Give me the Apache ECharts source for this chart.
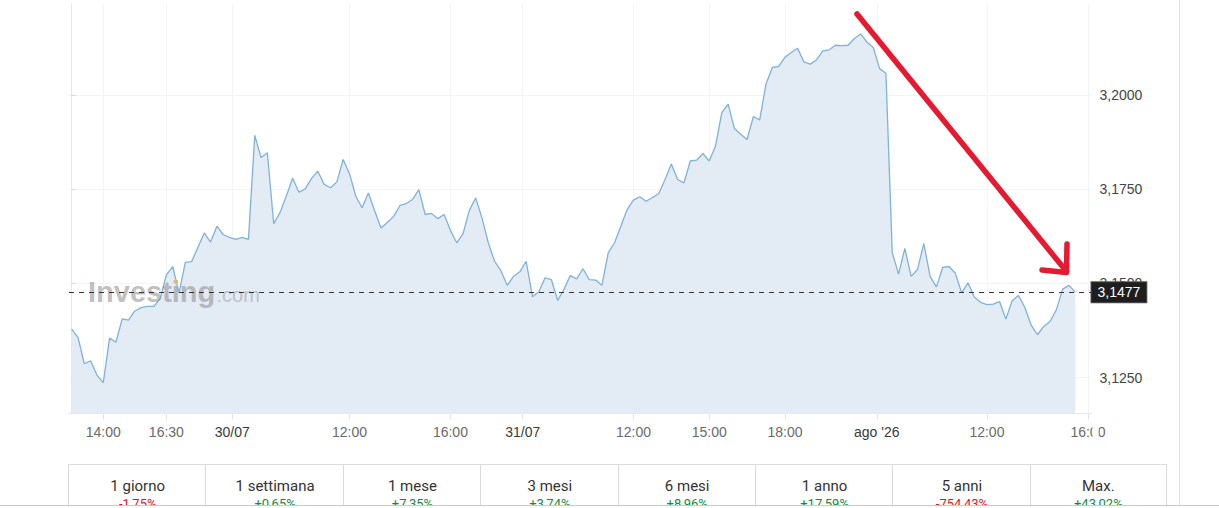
<!DOCTYPE html>
<html><head><meta charset="utf-8">
<script src="https://cdn.jsdelivr.net/npm/echarts@6/dist/echarts.min.js"></script>
<style>
html,body{margin:0;padding:0;background:#fff;width:1219px;height:508px;overflow:hidden;font-family:Roboto,"Liberation Sans",Arial,sans-serif;}
#chart{position:absolute;left:0;top:0;width:1219px;height:508px;}
#perf{position:absolute;left:68px;top:464px;width:1099px;height:60px;border-top:1px solid #dcdcdc;box-sizing:border-box;}
.cell{position:absolute;top:0;height:60px;border-left:1px solid #dcdcdc;box-sizing:border-box;text-align:center;}
.cell.last{border-right:1px solid #dcdcdc;}
.lab{position:absolute;left:0;right:0;top:11px;height:20px;line-height:20px;font-size:15px;color:#333;}
.chg{position:absolute;left:0;right:0;top:30px;height:18px;line-height:18px;font-size:13px;}
#rborder{position:absolute;left:1179px;top:0;width:1px;height:508px;background:#e3e3e3;}
#bottomband{position:absolute;left:0;top:505px;width:1219px;height:3px;background:#fff;border-top:1px solid #c2cbd3;}
</style>
</head>
<body>
<div id="chart"></div>
<div id="rborder"></div>
<div id="perf"></div>
<div id="bottomband"></div>
<script>
// ---- data ----
const values = [
3.1379,3.1357,3.1287,3.1295,3.1257,3.1237,3.1355,3.1344,3.1406,3.1403,
3.1427,3.1436,3.1439,3.1439,3.1459,3.1523,3.1545,3.1475,3.1556,3.1558,
3.1596,3.1634,3.1610,3.1652,3.1630,3.1622,3.1617,3.1622,3.1617,3.1893,
3.1834,3.1847,3.1659,3.1688,3.1732,3.1779,3.1742,3.1751,3.1779,3.1798,
3.1763,3.1754,3.1769,3.1829,3.1792,3.1732,3.1701,3.1740,3.1693,3.1647,
3.1662,3.1678,3.1707,3.1712,3.1723,3.1749,3.1683,3.1686,3.1672,3.1683,
3.1641,3.1608,3.1632,3.1694,3.1727,3.1674,3.1608,3.1559,3.1534,3.1495,
3.1519,3.1531,3.1559,3.1465,3.1478,3.1515,3.1510,3.1455,3.1485,3.1521,
3.1512,3.1539,3.1510,3.1509,3.1495,3.1581,3.1608,3.1652,3.1696,3.1721,
3.1730,3.1718,3.1728,3.1738,3.1776,3.1817,3.1776,3.1767,3.1825,3.1827,
3.1845,3.1825,3.1865,3.1953,3.1976,3.1911,3.1896,3.1882,3.1943,3.1934,
3.2029,3.2073,3.2076,3.2100,3.2113,3.2124,3.2088,3.2082,3.2093,3.2117,
3.2120,3.2132,3.2131,3.2132,3.2150,3.2162,3.2140,3.2126,3.2070,3.2058,
3.1582,3.1525,3.1593,3.1519,3.1537,3.1606,3.1519,3.1491,3.1543,3.1545,
3.1527,3.1475,3.1502,3.1464,3.1450,3.1444,3.1445,3.1452,3.1406,3.1454,
3.1468,3.1437,3.1390,3.1364,3.1386,3.1399,3.1430,3.1485,3.1495,3.1477
];
const tickIdx = [5, 15, 25.44, 44, 60, 71.45, 89, 101, 113, 127.55, 145, 161];
const tickLabels = ['14:00','16:30','30/07','12:00','16:00','31/07','12:00','15:00','18:00',"ago '26",'12:00','16:00'];
const dateLabels = ['30/07','31/07',"ago '26"];
const yTicks = [3.125, 3.15, 3.175, 3.2];
const lastPrice = values[values.length - 1];
const periods = ['1 giorno','1 settimana','1 mese','3 mesi','6 mesi','1 anno','5 anni','Max.'];
const changes = ['-1,75%','+0,65%','+7,35%','+3,74%','+8,96%','+17,59%','-754,43%','+43,02%'];

// ---- performance table ----
const perf = document.getElementById('perf');
const cw = 1099 / periods.length;
periods.forEach((p, i) => {
  const c = document.createElement('div');
  c.className = 'cell' + (i === periods.length - 1 ? ' last' : '');
  c.style.left = (i * cw) + 'px';
  c.style.width = (cw + (i === periods.length - 1 ? 0 : 1)) + 'px';
  const l = document.createElement('div'); l.className = 'lab'; l.textContent = p;
  const v = document.createElement('div'); v.className = 'chg'; v.textContent = changes[i];
  v.style.color = changes[i].startsWith('-') ? '#e3131c' : '#118a3a';
  c.appendChild(l); c.appendChild(v); perf.appendChild(c);
});

// ---- chart ----
const chart = echarts.init(document.getElementById('chart'), null, {renderer: 'svg'});
const fmtNum = v => v.toFixed(4).replace('.', ',');
const option = {
  animation: false,
  grid: {left: 69, right: 127.5, top: 4, bottom: 94.5, containLabel: false},
  xAxis: {
    type: 'value', min: -0.43, max: 161.57,
    axisLine: {show: true, lineStyle: {color: '#e3e6ea', width: 1}},
    axisTick: {show: true, customValues: tickIdx, length: 6, lineStyle: {color: '#e3e3e3'}},
    axisLabel: {
      customValues: tickIdx, margin: 11, fontSize: 14, fontFamily: '"Liberation Sans", Arial, sans-serif',
      formatter: function (v) {
        let k = 0, best = 1e9;
        tickIdx.forEach((t, i) => { if (Math.abs(t - v) < best) { best = Math.abs(t - v); k = i; } });
        const s = tickLabels[k];
        return dateLabels.includes(s) ? '{d|' + s + '}' : '{t|' + s + '}';
      },
      rich: {
        t: {color: '#6a6a6a', fontSize: 14, fontFamily: '"Liberation Sans", Arial, sans-serif'},
        d: {color: '#3a3a3a', fontSize: 14, fontFamily: '"Liberation Sans", Arial, sans-serif'}
      }
    },
    splitLine: {show: true, lineStyle: {color: '#f3f4f6', width: 1}}
  },
  yAxis: {
    type: 'value', position: 'right',
    min: 3.115505, max: 3.224149,
    axisLine: {show: true, lineStyle: {color: '#e3e6ea', width: 1}},
    axisTick: {show: true, customValues: yTicks, length: 4, lineStyle: {color: '#d8d8d8'}},
    axisLabel: {customValues: yTicks, margin: 8, fontSize: 14, color: '#444',
      fontFamily: '"Liberation Sans", Arial, sans-serif', formatter: fmtNum},
    splitLine: {show: true, lineStyle: {color: '#f3f4f6', width: 1}}
  },
  graphic: {elements: [
    {type: 'text', z: 5, silent: true, style: {text: 'Investing', x: 88, y: 291.5,
      font: 'bold 29px "Liberation Sans", Arial, sans-serif', fill: 'rgba(140,140,140,0.55)',
      align: 'left', verticalAlign: 'middle', textAlign: 'left', textVerticalAlign: 'middle'}},
    {type: 'circle', z: 5, silent: true, shape: {cx: 175.8, cy: 282, r: 2.4}, style: {fill: 'rgba(240,190,90,0.75)'}},
    {type: 'text', z: 5, silent: true, style: {text: '.com', x: 216.5, y: 295,
      font: '20px "Liberation Sans", Arial, sans-serif', fill: 'rgba(160,160,160,0.55)',
      align: 'left', verticalAlign: 'middle', textAlign: 'left', textVerticalAlign: 'middle'}},
    {type: 'polyline', z: 100, silent: true, shape: {points: [[857, 14], [1066.5, 271.5]]},
      style: {stroke: '#e51a30', lineWidth: 5.5, lineCap: 'round', lineJoin: 'round', fill: null}},
    {type: 'polyline', z: 100, silent: true, shape: {points: [[1067, 244], [1066.5, 272.5], [1042, 270]]},
      style: {stroke: '#e51a30', lineWidth: 5.5, lineCap: 'round', lineJoin: 'round', fill: null}},
    {type: 'rect', z: 100, silent: true, shape: {x: 1092.5, y: 418, width: 6, height: 26}, style: {fill: '#fff'}}
  ]},
  series: [{
    type: 'line',
    data: values.map((v, i) => [i, v]),
    symbol: 'none', showSymbol: false,
    lineStyle: {color: '#7fb2da', width: 1.3},
    areaStyle: {color: '#e3ebf4', opacity: 1, origin: 'start'},
    z: 2,
    markLine: {
      silent: true, symbol: ['none', 'none'], animation: false, precision: 4,
      lineStyle: {type: [5, 5], color: '#333', width: 1},
      label: {show: true, position: 'end', distance: 0, formatter: () => fmtNum(lastPrice),
        backgroundColor: '#1e1e1e', borderColor: '#555', borderWidth: 1,
        color: '#fff', fontSize: 14, padding: [3, 6, 3, 6],
        fontFamily: '"Liberation Sans", Arial, sans-serif'},
      emphasis: {disabled: true},
      data: [{yAxis: lastPrice}]
    }
  }]
};
chart.setOption(option);
</script>
</body></html>
